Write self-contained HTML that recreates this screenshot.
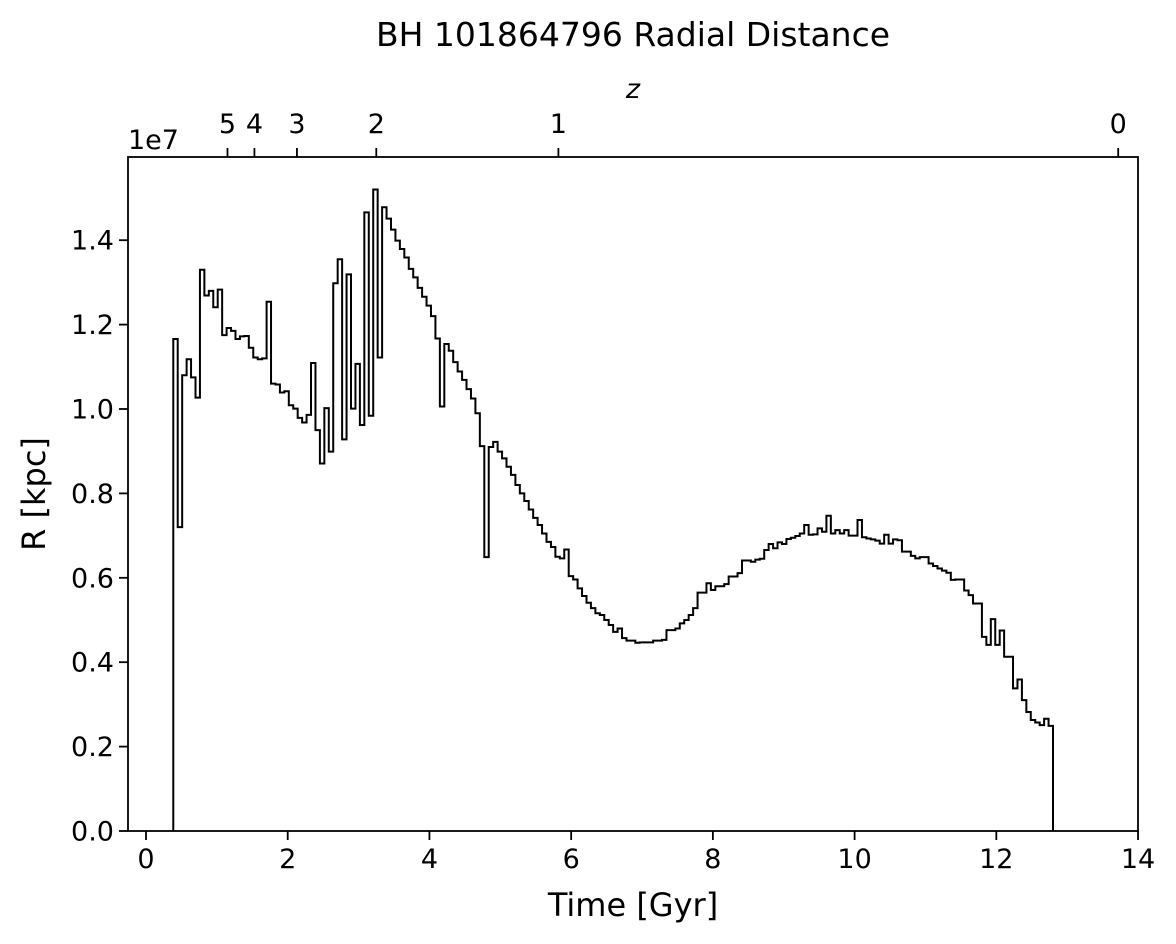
<!DOCTYPE html>
<html><head><meta charset="utf-8"><style>
html,body{margin:0;padding:0;background:#fff;}
svg{display:block;font-family:"DejaVu Sans","Liberation Sans",sans-serif;}
</style></head><body>
<svg id="chart" width="1176" height="944" viewBox="0 0 1176 944" xmlns="http://www.w3.org/2000/svg">
<text x="633" y="46" font-size="33" text-anchor="middle">BH 101864796 Radial Distance</text>
<text x="633" y="98" font-size="27" font-style="italic" text-anchor="middle">z</text>
<text x="128" y="149" font-size="27">1e7</text>
<text x="633" y="916" font-size="32" text-anchor="middle">Time [Gyr]</text>
<text transform="translate(45,494) rotate(-90)" font-size="32" text-anchor="middle">R [kpc]</text>
<g id="ticks"></g>
<path id="series" fill="none" stroke="#000" stroke-width="2"/>
<rect x="128" y="157" width="1010" height="674" fill="none" stroke="#000" stroke-width="1.8"/>
</svg>
<script>
const xTicks = [0,2,4,6,8,10,12,14];
const yTicks = [0.0,0.2,0.4,0.6,0.8,1.0,1.2,1.4];
const zLabels = ["5","4","3","2","1","0"];
const zTimes = [1.15,1.53,2.13,3.25,5.82,13.72];
const tStart = 0.385;
const tEnd = 12.80;
const values = [
1.166,0.72,1.08,1.118,1.075,1.027,1.330,1.269,1.280,1.241,1.283,1.175,1.192,1.185,1.166,1.172,1.173,1.145,1.122,1.118,1.120,1.254,1.060,1.058,1.039,1.042,1.009,1.001,0.979,0.968,0.986,1.109,0.950,0.871,1.002,0.899,1.298,1.355,0.928,1.319,1.001,1.107,0.962,1.466,0.984,1.520,
1.122,1.478,1.451,1.425,1.399,1.379,1.359,1.332,1.312,1.287,1.266,1.245,1.220,1.167,1.006,1.154,1.138,1.111,1.089,1.069,1.047,1.025,0.990,0.912,0.649,0.910,0.922,0.899,0.883,0.863,0.844,0.820,0.800,0.782,0.762,0.742,0.725,0.705,0.685,0.673,0.650,0.646,0.667,0.604,0.596,0.575,0.557,0.541,0.528,0.516,0.512,0.500,0.488,0.472,0.480,0.457,0.451,0.451,0.446,0.447,0.447,0.447,0.451,0.451,0.453,0.476,0.476,0.480,0.492,0.500,0.512,0.528,0.565,0.565,0.587,0.571,0.58,0.58,0.585,0.603,0.603,0.611,0.641,0.641,
0.638,0.643,0.645,0.666,0.680,0.670,0.684,0.680,0.692,0.695,0.699,0.705,0.725,0.702,0.703,0.717,0.709,0.747,0.705,0.713,0.705,0.713,0.700,0.700,0.737,0.696,0.693,0.691,0.688,0.681,0.702,0.681,0.691,0.689,0.662,0.662,0.652,0.646,0.649,0.649,0.634,0.628,0.622,0.617,0.612,0.595,0.596,0.596,0.570,0.559,0.539,0.539,0.460,0.441,0.502,0.441,0.475,0.413,0.413,0.338,0.359,0.310,0.282,0.263,0.257,0.251,0.266,0.249
];
const X0=146, XS=70.86, Y0=831, YS=422;
function xs(t){return X0+t*XS;}
function ys(v){return Y0-v*YS;}
const NS="http://www.w3.org/2000/svg";
const g=document.getElementById('ticks');
function mk(tag,attrs,txt){const e=document.createElementNS(NS,tag);for(const k in attrs)e.setAttribute(k,attrs[k]);if(txt!==undefined)e.textContent=txt;g.appendChild(e);return e;}
xTicks.forEach(t=>{
  const l=mk('line',{x1:xs(t),x2:xs(t),y1:831,y2:840,stroke:'#000','stroke-width':1.8});
  
  
  const tx=mk('text',{x:xs(t),y:868,'font-size':27,'text-anchor':'middle'},String(t));
  
  
});
yTicks.forEach(v=>{
  const l=mk('line',{x1:119,x2:128,y1:ys(v),y2:ys(v),stroke:'#000','stroke-width':1.8});
  
  
  const tx=mk('text',{x:114,y:ys(v)+9.5,'font-size':27,'text-anchor':'end'},v.toFixed(1));
  
  
});
zLabels.forEach((lab,i)=>{
  const x=xs(zTimes[i]);
  const l=mk('line',{x1:x,x2:x,y1:148,y2:157,stroke:'#000','stroke-width':1.8});
  
  
  const tx=mk('text',{x:x,y:133,'font-size':27,'text-anchor':'middle'},lab);
  
  
});
const n=values.length, dt=(tEnd-tStart)/n;
let d='M'+xs(tStart)+','+ys(0);
values.forEach((v,i)=>{
  d+=' L'+xs(tStart+i*dt).toFixed(2)+','+ys(v).toFixed(2)+' L'+xs(tStart+(i+1)*dt).toFixed(2)+','+ys(v).toFixed(2);
});
d+=' L'+xs(tEnd)+','+ys(0);
document.getElementById('series').setAttribute('d',d);
</script>
</body></html>
